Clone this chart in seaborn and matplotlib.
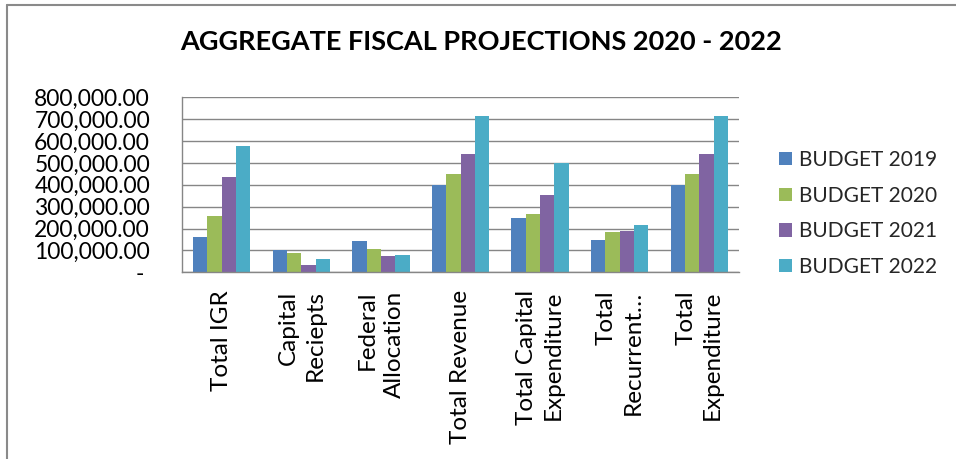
import matplotlib
matplotlib.use("Agg")
import matplotlib.pyplot as plt
from matplotlib.ticker import FuncFormatter, MultipleLocator
from matplotlib.lines import Line2D
import pandas as pd
import seaborn as sns

# Fiscal categories and budget figures per year
categories = [
    "Total IGR",
    "Capital\nReciepts",
    "Federal\nAllocation",
    "Total Revenue",
    "Total Capital\nExpenditure",
    "Total\nRecurrent…",
    "Total\nExpenditure",
]
series_names = ["BUDGET 2019", "BUDGET 2020", "BUDGET 2021", "BUDGET 2022"]
budget_2019 = [160000, 102000, 143000, 400000, 250000, 149000, 400000]
budget_2020 = [256000, 90000, 108000, 448000, 267000, 184000, 448000]
budget_2021 = [437000, 32000, 73000, 542000, 355000, 190000, 542000]
budget_2022 = [577000, 61000, 79000, 713000, 501000, 215000, 713000]
colors = ["#4F81BD", "#9BBB59", "#8064A2", "#4BACC6"]

rows = []
for name, vals in zip(series_names, [budget_2019, budget_2020, budget_2021, budget_2022]):
    for cat, v in zip(categories, vals):
        rows.append({"Category": cat, "Budget": name, "Value": v})
df = pd.DataFrame(rows)

sns.set_theme(style="white")
plt.rcParams["font.family"] = ["Lato", "DejaVu Sans"]

fig = plt.figure(figsize=(9.56, 4.59), dpi=100)
ax = fig.add_axes([0.1904, 0.4068, 0.5826, 0.3812])

sns.barplot(
    data=df, x="Category", y="Value", hue="Budget", order=categories,
    hue_order=series_names, palette=colors, saturation=1, width=0.72,
    gap=0, ax=ax, legend=True, linewidth=0,
)

ax.set_ylim(0, 800000)
ax.set_xlim(-0.5, len(categories) - 0.5)
ax.yaxis.set_major_locator(MultipleLocator(100000))
ax.yaxis.set_major_formatter(
    FuncFormatter(lambda v, p: "- " if v == 0 else f"{v:,.2f}")
)
ax.grid(axis="y", color="#868686", linewidth=1)
ax.set_axisbelow(True)
ax.set_xlabel("")
ax.set_ylabel("")
for side in ["top", "right"]:
    ax.spines[side].set_visible(False)
for side in ["left", "bottom"]:
    ax.spines[side].set_color("#868686")
    ax.spines[side].set_linewidth(1)

ax.tick_params(axis="y", length=0, pad=23, labelsize=16.5, labelcolor="black")
ax.tick_params(axis="x", length=0, pad=13, labelsize=17.5, labelcolor="black")
for lab in ax.get_xticklabels():
    lab.set_rotation(90)
    lab.set_va("top")
    lab.set_ha("center")
    lab.set_multialignment("right")
    lab.set_linespacing(1.35)

handles, labels = ax.get_legend_handles_labels()
ax.get_legend().remove()
fig.legend(
    handles, labels, loc="center left", bbox_to_anchor=(0.815, 0.535),
    frameon=False, fontsize=15, handlelength=0.6, handleheight=0.6,
    handletextpad=0.35, labelspacing=0.75, borderpad=0, borderaxespad=0,
)

fig.suptitle(
    "AGGREGATE FISCAL PROJECTIONS 2020 - 2022", x=0.503, y=0.908,
    va="center", fontsize=19.5, fontweight="bold", color="black",
)

# chart-area frame along the top and left edges
fig.add_artist(Line2D([0.0068, 1.0], [0.989, 0.989], transform=fig.transFigure,
                      color="#8a8a8a", linewidth=1.5))
fig.add_artist(Line2D([0.0068, 0.0068], [0.0, 0.989], transform=fig.transFigure,
                      color="#8a8a8a", linewidth=1.5))

fig.savefig("out.png", dpi=100, facecolor="white")
